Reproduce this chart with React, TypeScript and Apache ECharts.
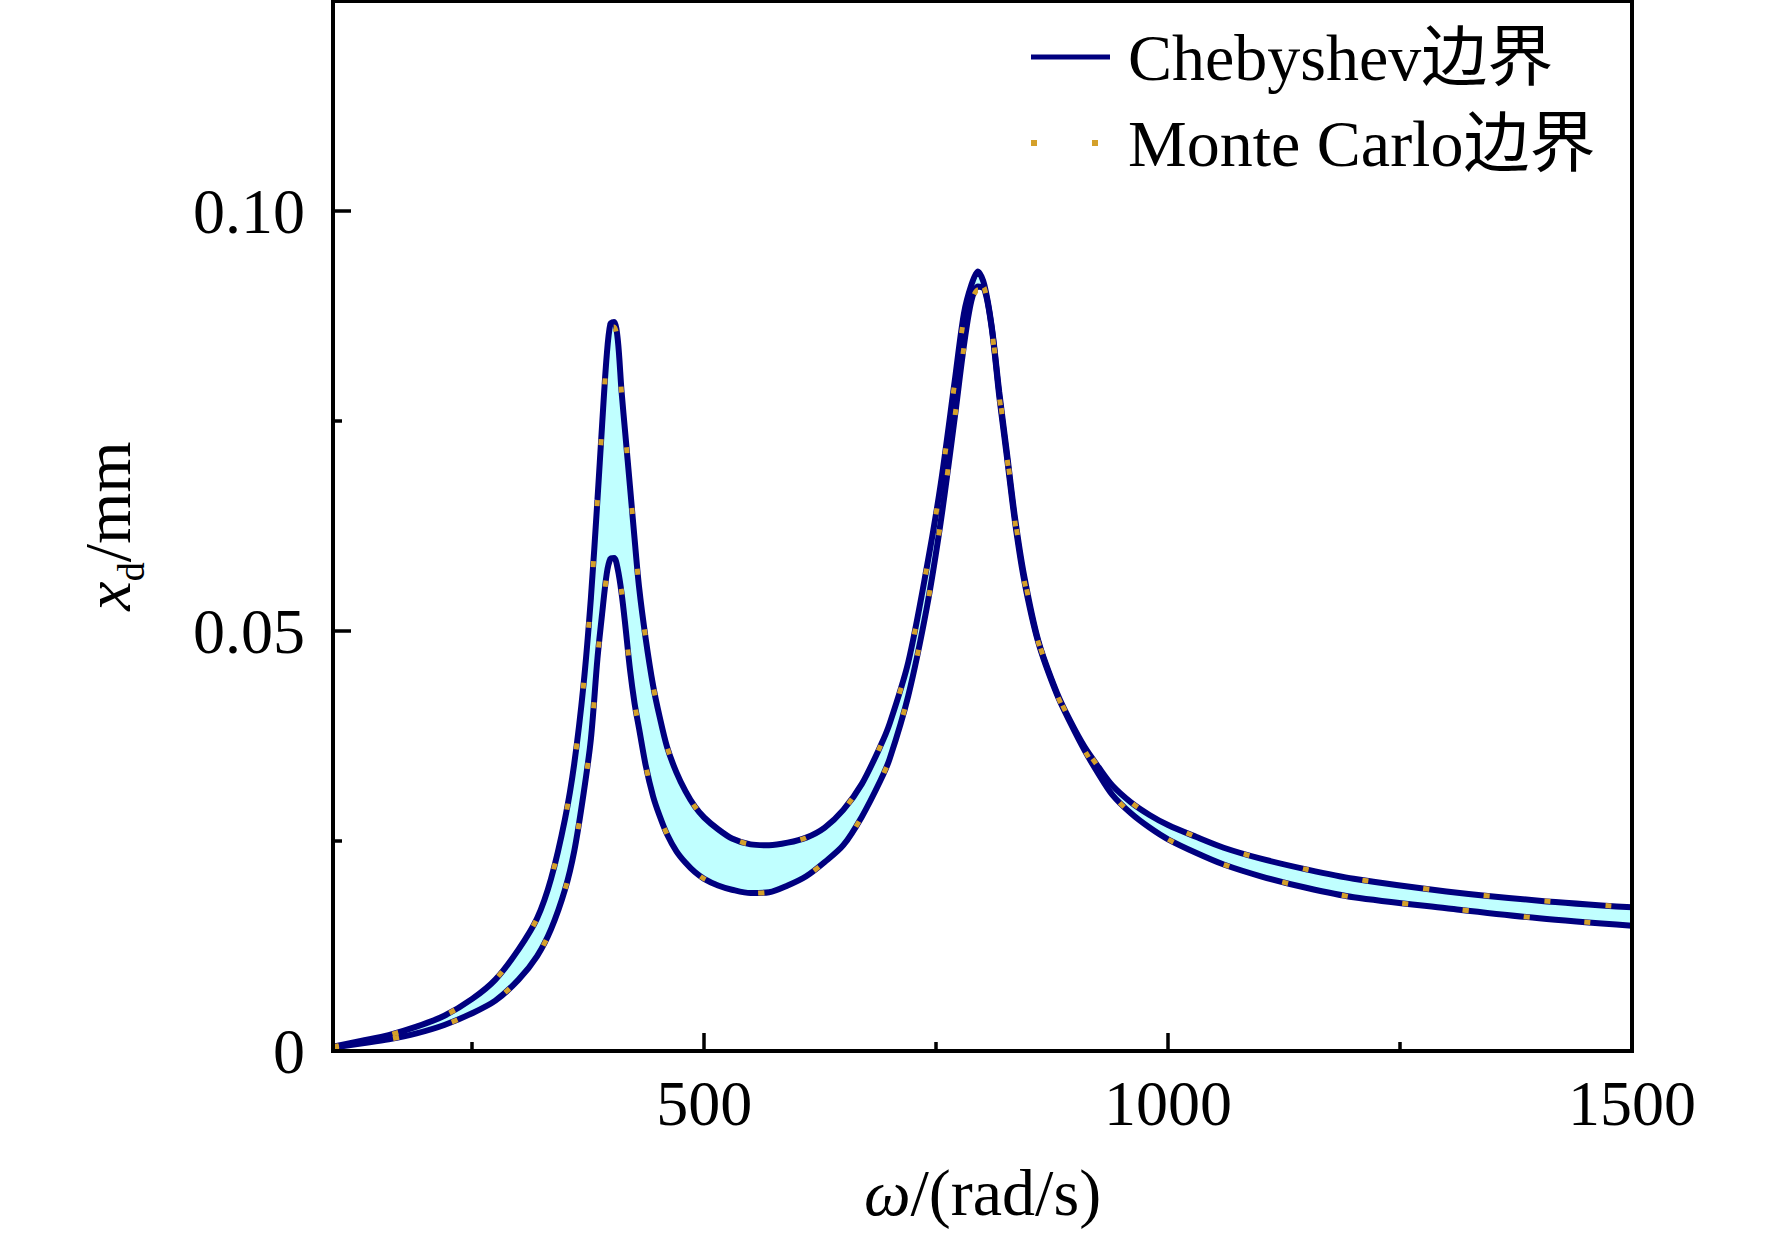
import React, { useEffect, useRef } from "react";
import * as echarts from "echarts";

// ω (rad/s) sample grid
const OMEGA = [
  100, 130, 160, 190, 220, 250, 275, 300, 320, 335,
  350, 360, 370, 378, 385, 390, 395, 399, 403, 407,
  411, 415, 420, 425, 430, 437, 445, 452, 460, 470, 480,
  490, 500, 515, 530, 550, 570, 590, 610, 630, 650,
  670, 690, 700, 720, 740, 755, 770, 780, 788, 795,
  802, 810, 818, 826, 835, 845, 860, 880, 895, 910,
  925, 940, 960, 980, 1000, 1030, 1060, 1100, 1150, 1200,
  1300, 1400, 1500,
];

// Chebyshev upper bound (mm)
const CHEB_UPPER = [
  0.0005, 0.0012, 0.0019, 0.0029, 0.0042, 0.0062, 0.0085, 0.0121, 0.0158, 0.0205,
  0.0276, 0.0342, 0.0436, 0.054, 0.0656, 0.0745, 0.0828, 0.0866, 0.0868, 0.0846,
  0.0785, 0.0735, 0.0673, 0.061, 0.0551, 0.0491, 0.0435, 0.0398, 0.0362, 0.0332, 0.0309,
  0.0291, 0.0278, 0.0264, 0.0253, 0.0246, 0.0245, 0.0248, 0.0254, 0.0266, 0.0287,
  0.0318, 0.0363, 0.039, 0.0463, 0.0576, 0.0675, 0.0797, 0.0878, 0.0912, 0.0928,
  0.0912, 0.0862, 0.0785, 0.0715, 0.0635, 0.0565, 0.0489, 0.0427, 0.0392, 0.0362,
  0.0338, 0.0316, 0.0296, 0.0281, 0.0269, 0.0255, 0.0242, 0.0229, 0.0216, 0.0205,
  0.019, 0.0179, 0.0171,
];
// Chebyshev lower bound (mm)
const CHEB_LOWER = [
  0.0004, 0.0009, 0.0014, 0.0021, 0.0031, 0.0045, 0.006, 0.0085, 0.0113, 0.0145,
  0.0192, 0.0238, 0.0306, 0.0372, 0.0467, 0.052, 0.0568, 0.0586, 0.0587, 0.0573,
  0.0545, 0.0507, 0.0455, 0.0414, 0.0383, 0.034, 0.0303, 0.028, 0.0258, 0.0238, 0.0224,
  0.0213, 0.0205, 0.0197, 0.0192, 0.0188, 0.0189, 0.0197, 0.0208, 0.0225, 0.0245,
  0.0279, 0.0322, 0.0348, 0.0423, 0.0528, 0.063, 0.0753, 0.084, 0.0893, 0.091,
  0.0907, 0.086, 0.078, 0.071, 0.063, 0.056, 0.0487, 0.0425, 0.039, 0.0358,
  0.033, 0.0305, 0.0283, 0.0266, 0.0252, 0.0236, 0.0222, 0.0208, 0.0194, 0.0183,
  0.017, 0.0158, 0.0149,
];

// Monte Carlo upper bound (mm)
const MC_UPPER = [
  0.0005, 0.0012, 0.0019, 0.0029, 0.0042, 0.0062, 0.0085, 0.0121, 0.0158, 0.0205,
  0.0276, 0.0342, 0.0436, 0.054, 0.0656, 0.0745, 0.0826, 0.0862, 0.0862, 0.084,
  0.0783, 0.0735, 0.0673, 0.061, 0.0551, 0.0491, 0.0435, 0.0398, 0.0362, 0.0332, 0.0309,
  0.0291, 0.0278, 0.0264, 0.0253, 0.0246, 0.0245, 0.0248, 0.0254, 0.0266, 0.0287,
  0.0318, 0.0363, 0.039, 0.0463, 0.0576, 0.0675, 0.0795, 0.0872, 0.09, 0.0914,
  0.0908, 0.086, 0.0785, 0.0715, 0.0635, 0.0565, 0.0489, 0.0427, 0.0392, 0.0362,
  0.0338, 0.0316, 0.0296, 0.0281, 0.0269, 0.0255, 0.0242, 0.0229, 0.0216, 0.0205,
  0.019, 0.0179, 0.0171,
];
// Monte Carlo lower bound (mm)
const MC_LOWER = [
  0.0004, 0.0009, 0.0014, 0.0021, 0.0031, 0.0045, 0.006, 0.0085, 0.0113, 0.0145,
  0.0192, 0.0238, 0.0306, 0.0372, 0.0467, 0.052, 0.0566, 0.0584, 0.0585, 0.0571,
  0.0547, 0.0507, 0.0455, 0.0414, 0.0383, 0.034, 0.0303, 0.028, 0.0258, 0.0238, 0.0224,
  0.0213, 0.0205, 0.0197, 0.0192, 0.0188, 0.0189, 0.0197, 0.0208, 0.0225, 0.0245,
  0.0279, 0.0322, 0.0348, 0.0423, 0.0528, 0.063, 0.0753, 0.0838, 0.089, 0.0906,
  0.0904, 0.0858, 0.078, 0.071, 0.063, 0.056, 0.0487, 0.0425, 0.039, 0.0358,
  0.033, 0.0305, 0.0283, 0.0266, 0.0252, 0.0236, 0.0222, 0.0208, 0.0194, 0.0183,
  0.017, 0.0158, 0.0149,
];

const X_MAJOR = [500, 1000, 1500];
const X_MINOR = [250, 750, 1250];
const Y_MAJOR = [0, 0.05, 0.1];
const Y_MINOR = [0.025, 0.075];

const NAME_CHEB = "Chebyshev边界";
const NAME_MC = "Monte Carlo边界";

const SERIF = "'Liberation Serif', 'Times New Roman', 'Noto Sans CJK SC', serif";
const NAVY = "#00007f";
const GOLD = "#d4a02a";
const CYAN = "#c0ffff";
const MC_DASH = [6, 55];

export default function App() {
  const ref = useRef<HTMLDivElement>(null);
  useEffect(() => {
    if (!ref.current) return;
    const chart = echarts.init(ref.current, undefined, { renderer: "svg" });
    const pairs = (ys: number[]) => OMEGA.map((w, i) => [w, ys[i]]);
    const SMOOTH = 0.3;
    const tickFont = { fontFamily: SERIF, fontSize: 64, color: "#000" };
    const line = (name: string, ys: number[], color: string, width: number, dash: any, z: number) => ({
      type: "line",
      name,
      data: pairs(ys),
      symbol: "none",
      smooth: SMOOTH,
      z,
      silent: true,
      lineStyle: { color, width, type: dash, cap: "butt" },
      itemStyle: { color },
    });
    chart.setOption({
      animation: false,
      backgroundColor: "#fff",
      grid: {
        left: 333,
        right: 140,
        top: 1,
        bottom: 184,
        show: true,
        borderColor: "#000",
        borderWidth: 4,
        backgroundColor: "transparent",
        z: 10,
      },
      legend: {
        data: [
          { name: NAME_CHEB, itemStyle: { opacity: 0 }, lineStyle: { color: NAVY, width: 5, type: "solid" } },
          { name: NAME_MC, itemStyle: { opacity: 0 }, lineStyle: { color: GOLD, width: 6, type: MC_DASH } },
        ],
        orient: "vertical",
        left: 1023,
        top: 19,
        itemWidth: 79,
        itemHeight: 20,
        itemGap: 20,
        selectedMode: false,
        textStyle: {
          fontFamily: SERIF,
          fontSize: 66,
          lineHeight: 66,
          color: "#000",
          padding: [0, 0, 0, 13],
        },
      },
      xAxis: [
        {
          type: "value",
          min: 100,
          max: 1500,
          position: "bottom",
          z: 10,
          splitLine: { show: false },
          axisLine: { show: true, onZero: false, lineStyle: { color: "#000", width: 4 } },
          axisTick: {
            show: true,
            inside: true,
            length: 18,
            customValues: X_MAJOR,
            lineStyle: { color: "#000", width: 3.5 },
          },
          axisLabel: {
            show: true,
            customValues: X_MAJOR,
            margin: 20,
            ...tickFont,
            formatter: (v: number) => String(v),
          },
          name: "{i|ω}{n|/(rad/s)}",
          nameLocation: "middle",
          nameGap: 108,
          nameTextStyle: {
            fontFamily: SERIF,
            fontSize: 66,
            color: "#000",
            rich: {
              i: { fontFamily: SERIF, fontSize: 66, fontStyle: "italic", color: "#000", lineHeight: 66 },
              n: { fontFamily: SERIF, fontSize: 66, color: "#000", lineHeight: 66 },
            },
          },
        },
        {
          type: "value",
          min: 100,
          max: 1500,
          position: "bottom",
          gridIndex: 0,
          z: 10,
          splitLine: { show: false },
          axisLine: { show: false },
          axisTick: {
            show: true,
            inside: true,
            length: 9,
            customValues: X_MINOR,
            lineStyle: { color: "#000", width: 3.5 },
          },
          axisLabel: { show: false },
        },
      ],
      yAxis: [
        {
          type: "value",
          min: 0,
          max: 0.125,
          position: "left",
          z: 10,
          splitLine: { show: false },
          axisLine: { show: true, onZero: false, lineStyle: { color: "#000", width: 4 } },
          axisTick: {
            show: true,
            inside: true,
            length: 18,
            customValues: Y_MAJOR,
            lineStyle: { color: "#000", width: 3.5 },
          },
          axisLabel: {
            show: true,
            customValues: Y_MAJOR,
            margin: 28,
            ...tickFont,
            formatter: (v: number) => (v === 0 ? "0" : v.toFixed(2)),
          },
          name: "{i|x}{s|d}{n|/mm}",
          nameLocation: "middle",
          nameGap: 193,
          nameTextStyle: {
            fontFamily: SERIF,
            fontSize: 66,
            color: "#000",
            rich: {
              i: { fontFamily: SERIF, fontSize: 66, fontStyle: "italic", color: "#000", lineHeight: 66 },
              s: { fontFamily: SERIF, fontSize: 38, color: "#000", lineHeight: 38, padding: [47, 0, 0, 0] },
              n: { fontFamily: SERIF, fontSize: 66, color: "#000", lineHeight: 66 },
            },
          },
        },
        {
          type: "value",
          min: 0,
          max: 0.125,
          position: "left",
          gridIndex: 0,
          z: 10,
          splitLine: { show: false },
          axisLine: { show: false },
          axisTick: {
            show: true,
            inside: true,
            length: 9,
            customValues: Y_MINOR,
            lineStyle: { color: "#000", width: 3.5 },
          },
          axisLabel: { show: false },
        },
      ],
      series: [
        {
          type: "custom",
          name: "band",
          silent: true,
          z: 1,
          clip: true,
          data: [[OMEGA[0], CHEB_LOWER[0]]],
          renderItem: (_params: any, api: any) => {
            const top = OMEGA.map((w, i) => api.coord([w, CHEB_UPPER[i]]));
            const bottom = OMEGA.map((w, i) => api.coord([w, CHEB_LOWER[i]])).reverse();
            return {
              type: "polygon",
              shape: { points: top.concat(bottom) },
              style: { fill: CYAN, stroke: null },
            };
          },
        },
        line(NAME_CHEB, CHEB_UPPER, NAVY, 6, "solid", 3),
        line(NAME_CHEB, CHEB_LOWER, NAVY, 6, "solid", 3),
        line(NAME_MC, MC_UPPER, GOLD, 5, MC_DASH, 4),
        line(NAME_MC, MC_LOWER, GOLD, 5, MC_DASH, 4),
      ],
    });
    return () => chart.dispose();
  }, []);
  return (
    <div
      ref={ref}
      style={{ position: "fixed", left: 0, top: 0, width: 1772, height: 1235, background: "#fff" }}
    />
  );
}
